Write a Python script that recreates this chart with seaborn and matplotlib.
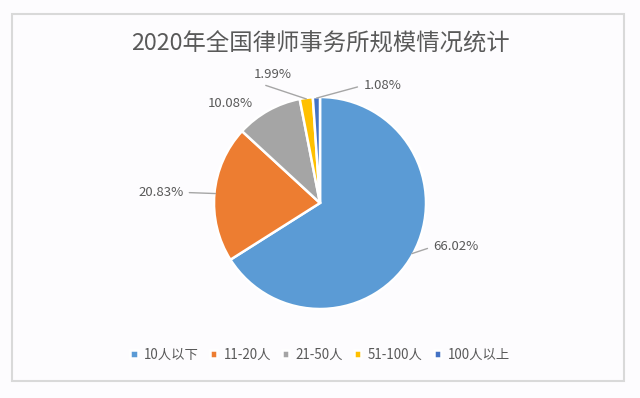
import numpy as np
import matplotlib
matplotlib.use("Agg")
import matplotlib.pyplot as plt
from matplotlib.patches import Rectangle
import seaborn as sns

# chart data
categories = ["10人以下", "11-20人", "21-50人", "51-100人", "100人以上"]
shares = [66.02, 20.83, 10.08, 1.99, 1.08]
colors = ["#5B9BD5", "#ED7D31", "#A5A5A5", "#FFC000", "#4472C4"]
title = "2020年全国律师事务所规模情况统计"

# label layout (data coords, pie radius = 1)
label_pos = [(1.07, -0.41), (-1.29, 0.10), (-0.85, 0.94), (-0.45, 1.21), (0.41, 1.11)]
label_ha = ["left", "right", "center", "center", "left"]
label_relpos = [(0, 0.5), (1, 0.5), None, (0.0, 0.0), (0, 0.5)]

sns.set_theme(style="white")
plt.rcParams["font.family"] = ["Noto Sans CJK SC", "DejaVu Sans"]

text_col = "#595959"

fig = plt.figure(figsize=(6.4, 3.98), dpi=100)
fig.patch.set_facecolor("#fdfcfe")

# chart frame
fig.patches.append(Rectangle((12 / 640, 1 - 381 / 398), 612 / 640, 367 / 398,
                             transform=fig.transFigure, fill=False,
                             edgecolor="#d9d9d9", lw=1.5))

ax = fig.add_axes([214 / 640, 89 / 398, 212 / 640, 212 / 398])
ax.set_facecolor("none")

wedges, _ = ax.pie(shares, colors=colors, startangle=90, counterclock=False,
                   radius=1, wedgeprops=dict(edgecolor="white", linewidth=1.8))
ax.set_xlim(-1, 1)
ax.set_ylim(-1, 1)
ax.set_aspect("equal")
ax.axis("off")

for w, val, pos, ha, rp in zip(wedges, shares, label_pos, label_ha, label_relpos):
    mid = np.deg2rad((w.theta1 + w.theta2) / 2)
    edge = (0.99 * np.cos(mid), 0.99 * np.sin(mid))
    if rp is None:
        ax.text(pos[0], pos[1], f"{val:.2f}%", ha=ha, va="center",
                fontsize=9.5, color=text_col)
    else:
        ax.annotate(f"{val:.2f}%", xy=edge, xytext=pos, ha=ha, va="center",
                    fontsize=9.5, color=text_col, annotation_clip=False,
                    arrowprops=dict(arrowstyle="-", color="#a6a6a6", lw=1,
                                    shrinkA=2, shrinkB=0, relpos=rp))

fig.text(0.5, 1 - 44 / 398, title, ha="center", va="center",
         fontsize=16.8, color=text_col)

fig.legend(wedges, categories, loc="center", bbox_to_anchor=(0.5, 1 - 355 / 398),
           ncol=5, frameon=False, fontsize=9.6, labelcolor=text_col,
           handlelength=0.55, handleheight=0.55, handletextpad=0.5,
           columnspacing=0.8)

fig.savefig("out.png", dpi=100, facecolor=fig.get_facecolor())
